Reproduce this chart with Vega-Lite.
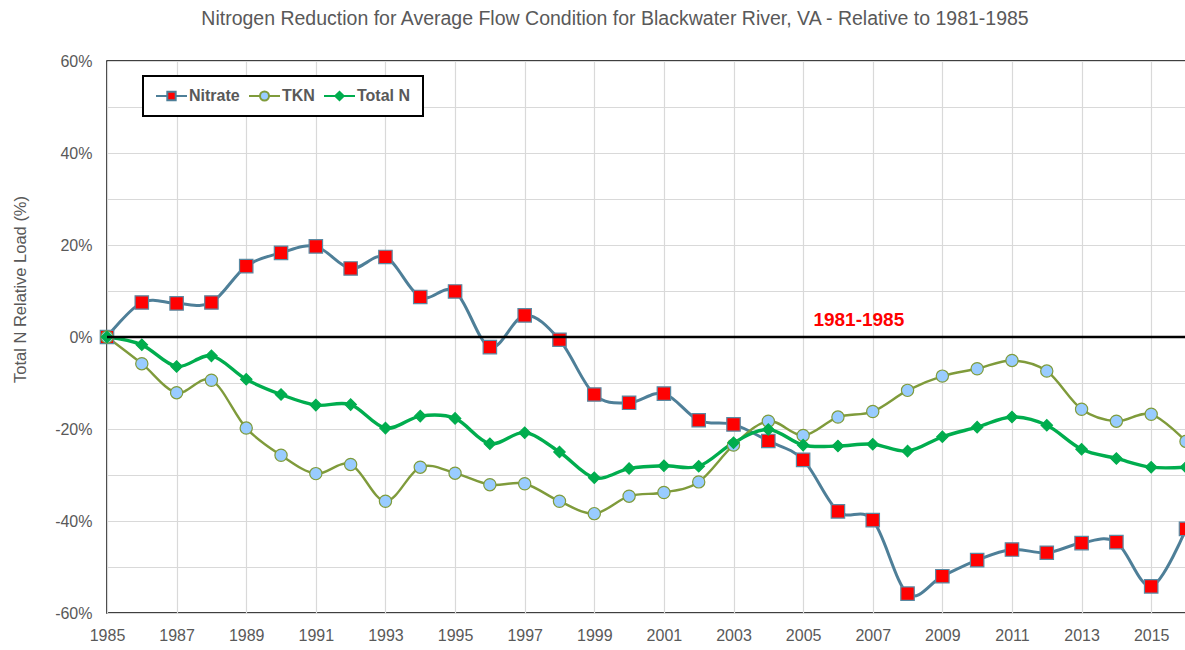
{
  "$schema": "https://vega.github.io/schema/vega-lite/v6.json",
  "width": 1079,
  "height": 552,
  "autosize": {"type": "none"},
  "padding": {"left": 107, "top": 61, "right": 0, "bottom": 37},
  "background": "white",
  "title": {
    "text": "Nitrogen Reduction for Average Flow Condition for Blackwater River, VA - Relative to 1981-1985",
    "font": "Liberation Sans",
    "fontSize": 19.5,
    "fontWeight": "normal",
    "color": "#595959",
    "anchor": "middle",
    "frame": "group",
    "dx": -31.5,
    "offset": 24
  },
  "config": {
    "font": "Liberation Sans",
    "view": {"stroke": "#000000", "strokeWidth": 1.5}
  },
  "layer": [
    {
      "data": {
        "values": [
          {"year": 1985, "Nitrate": 0, "TKN": 0, "Total N": 0},
          {"year": 1986, "Nitrate": 7.5, "TKN": -5.8, "Total N": -1.7},
          {"year": 1987, "Nitrate": 7.3, "TKN": -12.1, "Total N": -6.4},
          {"year": 1988, "Nitrate": 7.5, "TKN": -9.4, "Total N": -4.1},
          {"year": 1989, "Nitrate": 15.4, "TKN": -19.8, "Total N": -9.2},
          {"year": 1990, "Nitrate": 18.3, "TKN": -25.7, "Total N": -12.5},
          {"year": 1991, "Nitrate": 19.7, "TKN": -29.7, "Total N": -14.8},
          {"year": 1992, "Nitrate": 14.9, "TKN": -27.7, "Total N": -14.7},
          {"year": 1993, "Nitrate": 17.4, "TKN": -35.7, "Total N": -19.8},
          {"year": 1994, "Nitrate": 8.7, "TKN": -28.3, "Total N": -17.2},
          {"year": 1995, "Nitrate": 9.9, "TKN": -29.6, "Total N": -17.7},
          {"year": 1996, "Nitrate": -2.2, "TKN": -32.1, "Total N": -23.2},
          {"year": 1997, "Nitrate": 4.7, "TKN": -31.9, "Total N": -20.8},
          {"year": 1998, "Nitrate": -0.6, "TKN": -35.7, "Total N": -25.0},
          {"year": 1999, "Nitrate": -12.5, "TKN": -38.4, "Total N": -30.6},
          {"year": 2000, "Nitrate": -14.3, "TKN": -34.6, "Total N": -28.6},
          {"year": 2001, "Nitrate": -12.3, "TKN": -33.8, "Total N": -28.0},
          {"year": 2002, "Nitrate": -18.1, "TKN": -31.5, "Total N": -28.1},
          {"year": 2003, "Nitrate": -19.0, "TKN": -23.5, "Total N": -23.0},
          {"year": 2004, "Nitrate": -22.6, "TKN": -18.3, "Total N": -20.1},
          {"year": 2005, "Nitrate": -26.7, "TKN": -21.4, "Total N": -23.5},
          {"year": 2006, "Nitrate": -37.9, "TKN": -17.4, "Total N": -23.7},
          {"year": 2007, "Nitrate": -39.8, "TKN": -16.2, "Total N": -23.3},
          {"year": 2008, "Nitrate": -55.8, "TKN": -11.6, "Total N": -24.8},
          {"year": 2009, "Nitrate": -52.0, "TKN": -8.5, "Total N": -21.7},
          {"year": 2010, "Nitrate": -48.5, "TKN": -6.9, "Total N": -19.6},
          {"year": 2011, "Nitrate": -46.2, "TKN": -5.1, "Total N": -17.4},
          {"year": 2012, "Nitrate": -46.9, "TKN": -7.4, "Total N": -19.2},
          {"year": 2013, "Nitrate": -44.8, "TKN": -15.7, "Total N": -24.4},
          {"year": 2014, "Nitrate": -44.6, "TKN": -18.3, "Total N": -26.4},
          {"year": 2015, "Nitrate": -54.2, "TKN": -16.8, "Total N": -28.3},
          {"year": 2016, "Nitrate": -41.7, "TKN": -22.7, "Total N": -28.3}
        ]
      },
      "transform": [{"fold": ["Nitrate", "TKN", "Total N"], "as": ["series", "value"]}],
      "encoding": {
        "x": {
          "field": "year",
          "type": "quantitative",
          "scale": {"domain": [1985, 2016], "nice": false, "zero": false},
          "axis": {
            "values": [1985,1986,1987,1988,1989,1990,1991,1992,1993,1994,1995,1996,1997,1998,1999,2000,2001,2002,2003,2004,2005,2006,2007,2008,2009,2010,2011,2012,2013,2014,2015,2016],
            "labelExpr": "datum.value % 2 === 1 ? datum.value : ''",
            "grid": true,
            "gridColor": "#D9D9D9",
            "gridWidth": 1.2,
            "ticks": false,
            "domain": false,
            "labelFont": "Liberation Sans",
            "labelFontSize": 16,
            "labelColor": "#595959",
            "labelPadding": 14,
            "labelFlush": false,
            "labelOverlap": false,
            "title": null
          }
        },
        "y": {
          "field": "value",
          "type": "quantitative",
          "scale": {"domain": [-60, 60], "nice": false, "zero": false},
          "axis": {
            "values": [-60,-50,-40,-30,-20,-10,0,10,20,30,40,50,60],
            "labelExpr": "datum.value % 20 === 0 ? datum.value + '%' : ''",
            "grid": true,
            "gridColor": "#D9D9D9",
            "gridWidth": 1.2,
            "ticks": false,
            "domain": false,
            "labelFont": "Liberation Sans",
            "labelFontSize": 16,
            "labelColor": "#595959",
            "labelPadding": 15,
            "labelOverlap": false,
            "title": "Total N Relative Load (%)",
            "titleFont": "Liberation Sans",
            "titleFontSize": 16.5,
            "titleFontWeight": "normal",
            "titleColor": "#595959",
            "titleAngle": 270,
            "titleAlign": "center",
            "titleBaseline": "middle",
            "titleX": -87,
            "titleY": 228
          }
        },
        "color": {
          "field": "series",
          "type": "nominal",
          "scale": {"domain": ["Nitrate", "TKN", "Total N"], "range": ["#4E7F98", "#7F9B3B", "#00AD4E"]},
          "legend": {
            "orient": "none",
            "legendX": 36,
            "legendY": 15,
            "direction": "horizontal",
            "title": null,
            "symbolSize": 961,
            "symbolStrokeWidth": 2,
            "labelFont": "Liberation Sans",
            "labelFontSize": 16,
            "labelFontWeight": "bold",
            "labelColor": "#595959",
            "labelOffset": 1,
            "columnPadding": 8,
            "clipHeight": 16,
            "padding": 12,
            "encode": {
              "legend": {"update": {"stroke": {"value": "#000000"}, "strokeWidth": {"value": 2}, "fill": {"value": "#FFFFFF"}}},
              "symbols": {
                "update": {
                  "shape": {"signal": "datum.value === 'Nitrate' ? 'M-1,0H-0.27M0.27,0H1M-0.27,-0.27H0.27V0.27H-0.27Z' : datum.value === 'TKN' ? 'M-1,0H-0.29M0.29,0H1M-0.29,0A0.29,0.29,0,1,1,0.29,0A0.29,0.29,0,1,1,-0.29,0Z' : 'M-1,0H-0.27M0.27,0H1M-0.27,0L0,-0.27L0.27,0L0,0.27Z'"},
                  "fill": {"signal": "datum.value === 'Nitrate' ? '#FF0000' : datum.value === 'TKN' ? '#99CCFF' : '#00AD4E'"},
                  "size": {"value": 961},
                  "strokeWidth": {"value": 2},
                  "opacity": {"value": 1}
                }
              }
            }
          }
        }
      },
      "layer": [
        {
          "transform": [{"filter": "datum.series === 'Nitrate'"}],
          "mark": {"type": "line", "interpolate": "cardinal", "strokeWidth": 3}
        },
        {
          "transform": [{"filter": "datum.series === 'TKN'"}],
          "mark": {"type": "line", "interpolate": "cardinal", "strokeWidth": 2.4}
        },
        {
          "transform": [{"filter": "datum.series === 'Total N'"}],
          "mark": {"type": "line", "interpolate": "cardinal", "strokeWidth": 3.4}
        },
        {
          "transform": [{"filter": "datum.series === 'Nitrate'"}],
          "mark": {"type": "point", "shape": "square", "filled": true, "opacity": 1, "size": 180, "fill": "#FF0000", "stroke": "#5A8AA3", "strokeWidth": 1.2},
          "encoding": {"color": {"value": "#FF0000"}}
        },
        {
          "transform": [{"filter": "datum.series === 'TKN'"}],
          "mark": {"type": "point", "shape": "circle", "filled": true, "opacity": 1, "size": 150, "fill": "#99CCFF", "stroke": "#7F9B3B", "strokeWidth": 1.2},
          "encoding": {"color": {"value": "#99CCFF"}}
        },
        {
          "transform": [{"filter": "datum.series === 'Total N'"}],
          "mark": {"type": "point", "shape": "diamond", "filled": true, "opacity": 1, "size": 130, "fill": "#00AD4E", "stroke": "#00AD4E", "strokeWidth": 1.2},
          "encoding": {"color": {"value": "#00AD4E"}}
        }
      ]
    },
    {
      "data": {"values": [{"ref": 0}]},
      "mark": {"type": "rule", "color": "#000000", "strokeWidth": 2.5},
      "encoding": {"y": {"datum": 0}}
    },
    {
      "data": {"values": [{"label": "1981-1985"}]},
      "mark": {"type": "text", "color": "#FF0000", "font": "Liberation Sans", "fontSize": 19, "fontWeight": "bold", "align": "center", "baseline": "alphabetic"},
      "encoding": {
        "x": {"datum": 2006.6},
        "y": {"datum": 2.5},
        "text": {"field": "label", "type": "nominal"}
      }
    }
  ]
}
